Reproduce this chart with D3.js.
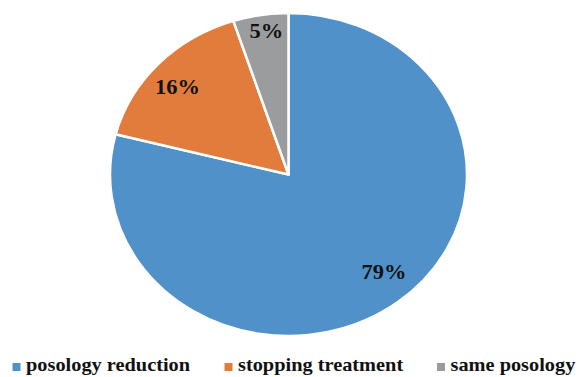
<!DOCTYPE html>
<html>
<head>
<meta charset="utf-8">
<script src="https://cdn.jsdelivr.net/npm/d3@7"></script>
<style>
  html, body { margin: 0; padding: 0; background: #fff; }
  svg { display: block; }
  text { font-family: "Liberation Serif", "Times New Roman", serif; font-weight: bold; }
</style>
</head>
<body>
<svg id="chart" width="579" height="377"></svg>
<script>
const categories = ["posology reduction", "stopping treatment", "same posology"];
const values = [79, 16, 5];
const colors = ["#5091c9", "#e27c3d", "#9b9c9d"];

const svg = d3.select("#chart");
const cx = 288.5, cy = 174.5, rx = 178.5, ry = 161.5;
const stretch = 1.1; // horizontal stretch applied to the text

const pie = d3.pie().sort(null).value(d => d.value);
const arcs = pie(categories.map((c, i) => ({ name: c, value: values[i], color: colors[i] })));
const arc = d3.arc().innerRadius(0).outerRadius(ry);

// the pie is slightly wider than tall, so it is drawn as a circle and stretched horizontally
const g = svg.append("g").attr("transform", `translate(${cx},${cy}) scale(${rx / ry},1)`);
g.selectAll("path").data(arcs).join("path")
  .attr("d", arc)
  .attr("fill", d => d.data.color)
  .attr("stroke", "#fff")
  .attr("stroke-width", 2.5)
  .attr("stroke-linejoin", "round")
  .attr("vector-effect", "non-scaling-stroke");

// percentage labels inside each slice, placed along the slice's middle angle
const labelFx = [0.873, 0.853, 0.79];
const labelFy = [0.768, 0.788, 0.896];
svg.append("g").selectAll("text").data(arcs).join("text")
  .attr("transform", (d, i) => {
    const a = (d.startAngle + d.endAngle) / 2;
    const x = cx + Math.sin(a) * rx * labelFx[i];
    const y = cy - Math.cos(a) * ry * labelFy[i];
    return `translate(${x},${y}) scale(1.07,1)`;
  })
  .attr("text-anchor", "middle")
  .attr("dominant-baseline", "central")
  .attr("font-size", 21)
  .attr("fill", "#111")
  .text(d => d.data.value + "%");

// legend along the bottom
const legendX = [12.5, 224.5, 437];
const legend = svg.append("g").attr("transform", "translate(0,371)");
const item = legend.selectAll("g").data(categories).join("g")
  .attr("transform", (d, i) => `translate(${legendX[i]},0)`);
item.append("rect").attr("x", 0).attr("y", -8).attr("width", 8).attr("height", 8)
  .attr("fill", (d, i) => colors[i]);
item.append("text")
  .attr("transform", `translate(${13.5},0) scale(${stretch},1)`)
  .attr("font-size", 18.5)
  .attr("fill", "#111")
  .text(d => d);
</script>
</body>
</html>
